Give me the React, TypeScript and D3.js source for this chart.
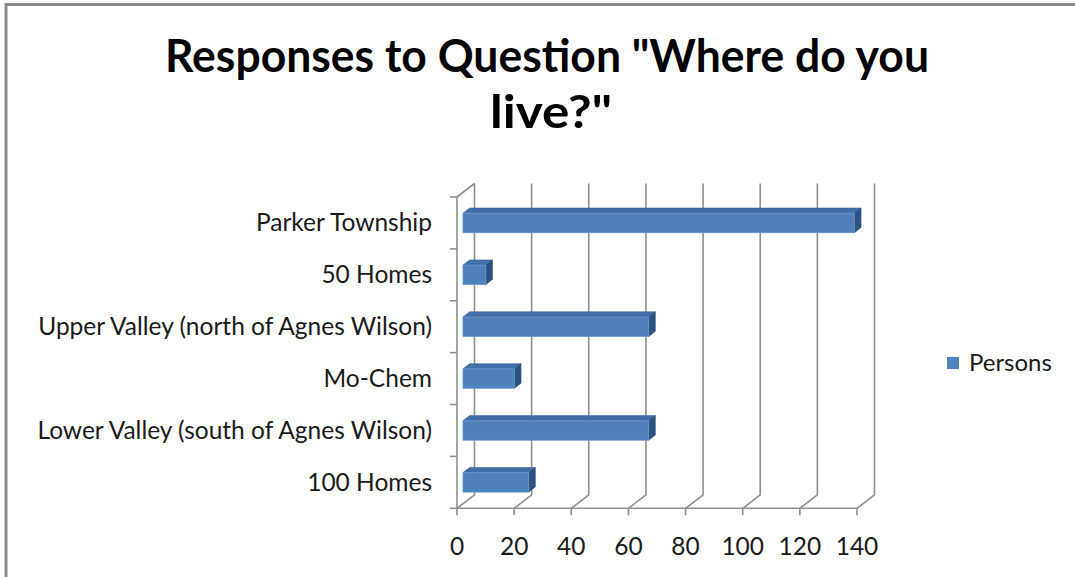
import React from "react";
import * as d3 from "d3";

const categories = [
  "Parker Township",
  "50 Homes",
  "Upper Valley (north of Agnes Wilson)",
  "Mo-Chem",
  "Lower Valley (south of Agnes Wilson)",
  "100 Homes",
];
const persons = [137, 8, 65, 18, 65, 23];
const xTicks = [0, 20, 40, 60, 80, 100, 120, 140];
const seriesName = "Persons";
const titleLines = ['Responses to Question "Where do you', 'live?"'];

const W = 1075;
const H = 577;
const FONT = "Lato, 'Open Sans', sans-serif";

export default function App() {
  const x = d3.scaleLinear().domain([0, 140]).range([457, 857]);
  const y = d3.scaleBand().domain(categories).range([197, 508.3]).paddingInner(0).paddingOuter(0);
  const DX = 17.5;
  const DY = -13.5;
  const p = (v: number, yy: number, d: number): [number, number] => [x(v) + d * DX, yy + d * DY];
  const d0 = 0.34;
  const d1 = 0.72;
  const barH = 19.5;
  const bw = y.bandwidth();
  const yTop = 197;
  const yBot = 508.3;
  const grid = "#8f8f8f";
  const pts = (arr: [number, number][]) => arr.map((q) => q.join(",")).join(" ");

  return (
    <svg width={W} height={H} style={{ position: "absolute", left: 0, top: 0, background: "#fff" }}>
      <rect x={0} y={0} width={W} height={H} fill="#fff" />
      <path d={`M6,${H + 5} L6,4.5 L${W + 5},4.5`} fill="none" stroke="#8a8a8a" strokeWidth={3} />
      <g fontFamily={FONT} fontWeight={700} fontSize={46} fill="#000" textAnchor="middle">
        <text x={547} y={72} textLength={764} lengthAdjust="spacingAndGlyphs">{titleLines[0]}</text>
        <text x={551} y={128} textLength={122} lengthAdjust="spacingAndGlyphs">{titleLines[1]}</text>
      </g>
      <g stroke={grid} strokeWidth={1.6} fill="none">
        {xTicks.map((t) => {
          const a = p(t, yBot, 0);
          const b = p(t, yBot, 1);
          const c = p(t, yTop, 1);
          return <polyline key={t} points={pts([a, b, c])} />;
        })}
        <polyline points={pts([p(0, yTop, 1), p(0, yTop, 0), p(0, yBot, 0)])} />
        <line x1={x(0)} y1={yBot} x2={x(140)} y2={yBot} />
        {xTicks.map((t) => (
          <line key={"t" + t} x1={x(t)} y1={yBot} x2={x(t)} y2={yBot + 7} />
        ))}
        {[...categories.map((c) => y(c) as number), yBot].map((yy, i) => (
          <line key={"l" + i} x1={x(0) - 7} y1={yy} x2={x(0)} y2={yy} />
        ))}
      </g>
      {categories.map((c, i) => {
        const v = persons[i];
        const cy = (y(c) as number) + bw / 2 + 4.6;
        const top = cy - barH / 2;
        const bot = cy + barH / 2;
        const f1 = p(0, top, d0);
        const f2 = p(v, top, d0);
        const f3 = p(v, bot, d0);
        const f4 = p(0, bot, d0);
        const b1 = p(0, top, d1);
        const b2 = p(v, top, d1);
        const b3 = p(v, bot, d1);
        return (
          <g key={c}>
            <polygon points={pts([f1, f2, b2, b1])} fill="#3f6ea8" stroke="#3a679e" strokeWidth={0.6} />
            <polygon points={pts([f2, f3, b3, b2])} fill="#2c5282" stroke="#2a4d7a" strokeWidth={0.6} />
            <polygon points={pts([f1, f2, f3, f4])} fill="#4f81bd" stroke="#6a95c8" strokeWidth={0.8} />
          </g>
        );
      })}
      <g fontFamily={FONT} fontSize={24.5} fill="#1a1a1a" textAnchor="end">
        {categories.map((c) => (
          <text key={c} x={432} y={(y(c) as number) + bw / 2 + 8.5}>{c}</text>
        ))}
      </g>
      <g fontFamily={FONT} fontSize={24.5} fill="#1a1a1a" textAnchor="middle">
        {xTicks.map((t) => (
          <text key={t} x={x(t)} y={555}>{t}</text>
        ))}
      </g>
      <rect x={947} y={357} width={12} height={12} fill="#4f81bd" />
      <text x={969} y={371} fontFamily={FONT} fontSize={24} fill="#1a1a1a">{seriesName}</text>
    </svg>
  );
}
